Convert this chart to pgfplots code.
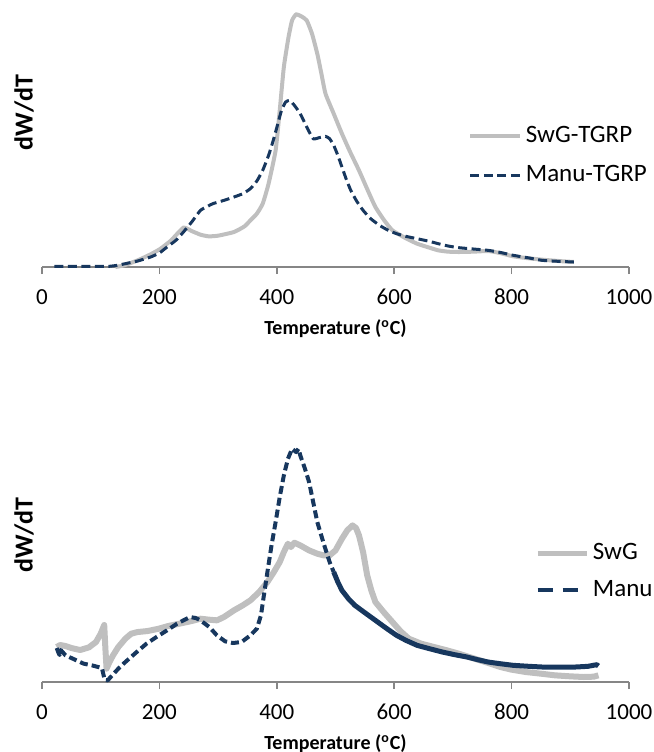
\documentclass[border=0pt]{standalone}
\usepackage{pgfplots}
\pgfplotsset{compat=1.18}
\usepackage{fontspec}
\setmainfont{Carlito}

\definecolor{swg}{RGB}{191,191,191}
\definecolor{manu}{RGB}{23,55,94}
\definecolor{axgray}{RGB}{134,134,134}

\pgfplotsset{
  dtg/.style={
    scale only axis, width=293.5pt, height=133.3pt,
    xmin=0, xmax=1000, ymin=0, ymax=800,
    axis x line*=bottom, axis y line*=left,
    y axis line style={draw=none},
    x axis line style={axgray, line width=0.75pt},
    xtick={0,200,...,1000}, ytick=\empty,
    tick align=outside, major tick length=3.5pt,
    xtick style={axgray, line width=0.75pt},
    /pgf/number format/assume math mode=true,
    /pgf/number format/1000 sep={},
    xticklabel style={font=\fontsize{11.5}{13}\selectfont, anchor=center, yshift=-11.5pt},
    xlabel={\textbf{Temperature (\textsuperscript{o}C)}},
    xlabel style={font=\fontsize{10}{12}\selectfont, at={(axis description cs:0.5,0)}, anchor=center, yshift=-31pt},
    ylabel={\textbf{dW/dT}},
    legend style={draw=none, fill=none, inner sep=0pt, font=\fontsize{12.5}{14}\selectfont,
      nodes={inner sep=1.75pt}},
    legend cell align=left,
    clip=false,
  }
}

\begin{document}
\begin{tikzpicture}
\useasboundingbox (-21pt,133.5pt) rectangle (306pt,-242.5pt);

% upper panel: TGRP residues
\begin{axis}[dtg,
  ylabel style={font=\fontsize{13}{15}\selectfont, at={(axis description cs:-0.0307,0.58)}, anchor=center},
  legend style={at={(axis description cs:0.7257,0.418)}, anchor=west, row sep=6.5pt},
  legend image code/.code={\draw[#1] (0pt,0pt) -- (25pt,0pt);}
]
\addplot[swg, line width=2pt, smooth, tension=0.3] coordinates {
 (125,0) (140,5) (163,20) (185,38) (202,55) (220,80) (241,118) (255,108)
 (270,97) (284,92) (300,94) (327,105) (345,122) (355,140) (366,160) (376,190)
 (386,250) (398,350) (405,470) (412,600) (420,690) (426,740) (433,758) (442,752)
 (451,740) (460,700) (469,640) (476,580) (483,520) (497,460) (511,400) (525,345)
 (540,290) (555,230) (568,180) (583,140) (597,110) (618,88) (639,70) (660,58)
 (675,50) (692,46) (710,45) (735,46) (760,48) (780,42) (803,32) (830,26)
 (852,22) (880,18) (906,15)
};
\addlegendentry{SwG-TGRP}
\addplot[manu, line width=1.5pt, dash pattern=on 4.5pt off 2.25pt, smooth, tension=0.3] coordinates {
 (21,2) (60,2) (100,2) (114,2) (128,5) (142,10) (163,18) (185,30) (200,42)
 (213,60) (228,80) (241,105) (255,135) (270,170) (282,182) (291,190) (310,200)
 (327,210) (342,220) (355,235) (366,258) (376,290) (386,335) (394,380) (401,425)
 (408,470) (415,495) (422,500) (430,485) (440,460) (451,420) (462,385) (472,388)
 (483,392) (490,385) (497,365) (504,335) (511,300) (518,265) (526,230) (536,198)
 (547,170) (560,145) (575,125) (590,110) (604,100) (620,92) (639,85) (660,77)
 (675,70) (692,63) (710,58) (735,54) (760,50) (780,44) (803,35) (830,27)
 (852,20) (880,17) (906,15)
};
\addlegendentry{Manu-TGRP}
\end{axis}

% lower panel: raw materials
\begin{axis}[dtg, at={(0pt,-207.5pt)},
  ylabel style={font=\fontsize{13}{15}\selectfont, at={(axis description cs:-0.0307,0.551)}, anchor=center},
  legend style={at={(axis description cs:0.8399,0.414)}, anchor=west, row sep=5.5pt},
  legend image code/.code={\draw[#1] (0pt,0pt) -- (20pt,0pt); \path (0pt,0pt) -- (24.5pt,0pt);}
]
\addplot[swg, line width=3pt, line join=round, forget plot] coordinates {
 (25,105) (31,111) (40,108) (50,102) (65,96) (80,104) (92,120) (100,145)
 (106,171) (108,100) (110,40) (115,60) (121,80) (130,105) (142,130) (152,145)
 (163,150) (180,153) (199,160) (215,168) (234,175) (255,183) (270,190) (285,187)
 (298,185) (310,195) (327,215) (342,230) (355,245) (370,270) (384,300) (395,330)
 (405,360) (412,390) (419,415) (424,405) (430,418) (440,410) (455,395) (469,385)
 (480,380) (490,380) (500,395) (511,430) (520,455) (529,470) (535,462) (540,440)
 (547,390) (554,320) (561,275) (568,240) (582,210) (597,180) (611,152) (625,130)
 (646,115) (668,105) (690,95) (710,85) (728,75) (746,65) (764,55) (781,45)
 (800,37) (824,30) (850,25) (874,20) (900,17) (923,15) (940,16) (948,20)
};
\addplot[manu, line width=2pt, dash pattern=on 4pt off 2pt, line join=round, forget plot] coordinates {
 (25,102) (28,88) (30,81) (32,96) (40,80) (50,72) (71,55) (85,50) (102,42)
 (105,20) (107,6) (112,5) (117,15) (130,40) (142,60) (160,88) (178,115) (195,135)
 (213,155) (230,175) (252,195) (262,192) (270,185) (285,165) (298,140) (312,122)
 (325,117) (340,120) (355,140) (366,160) (373,200) (378,260) (384,330) (391,410)
 (398,480) (405,555) (412,620) (419,670) (426,700) (433,690) (437,700) (440,680)
 (448,640) (455,600) (462,540) (469,480) (480,415) (490,360) (497,330)
};
\addplot[manu, line width=2.5pt, line join=round, forget plot] coordinates {
 (497,330) (504,300) (511,275) (522,250) (533,230) (550,208) (568,185)
 (586,162) (604,140) (620,125) (639,110) (660,100) (682,90) (703,82) (724,75)
 (742,67) (760,60) (780,55) (803,50) (830,47) (852,45) (880,45) (909,45)
 (930,47) (945,52) (948,48)
};
\addlegendimage{swg, line width=2.5pt}
\addlegendentry{SwG}
\addlegendimage{manu, line width=2pt, dash pattern=on 7.5pt off 5pt}
\addlegendentry{Manu}
\end{axis}
\end{tikzpicture}
\end{document}
